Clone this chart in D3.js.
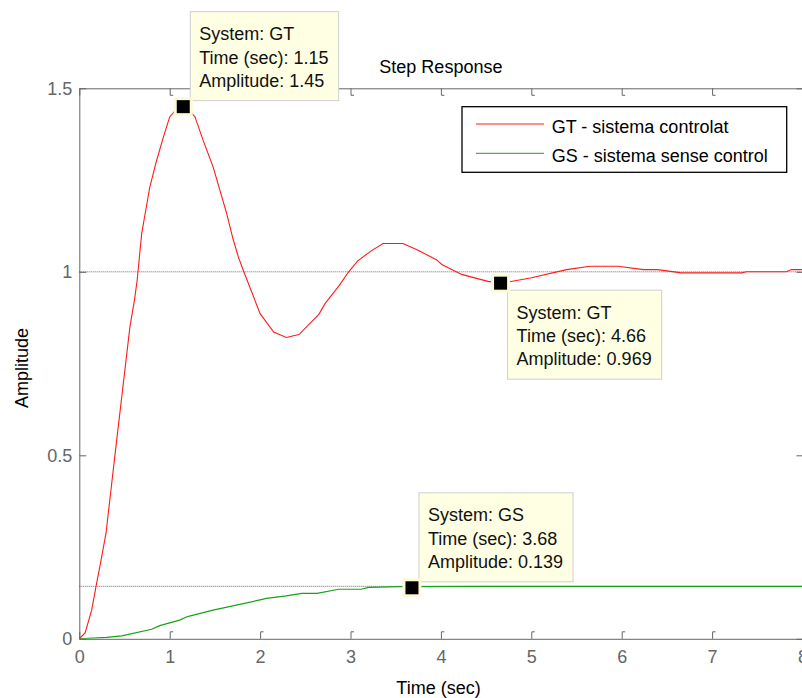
<!DOCTYPE html>
<html>
<head>
<meta charset="utf-8">
<script src="https://cdn.jsdelivr.net/npm/d3@7"></script>
<style>
  body { margin: 0; background: #fff; }
  svg { display: block; font-family: "Liberation Sans", Arial, sans-serif; }
</style>
</head>
<body>
<svg id="chart" width="802" height="698"></svg>
<script>
// step response of the controlled system (GT)
var gtTime = [0, 0.064, 0.137, 0.185, 0.23, 0.295, 0.395, 0.487, 0.56, 0.61, 0.64, 0.69, 0.78, 0.856, 0.93, 1.0, 1.08, 1.15, 1.22, 1.28, 1.37, 1.48, 1.63, 1.70, 1.76, 1.82, 2.0, 2.15, 2.29, 2.43, 2.65, 2.72, 2.87, 2.98, 3.08, 3.23, 3.36, 3.58, 3.73, 3.95, 4.01, 4.23, 4.52, 4.66, 4.76, 4.99, 5.39, 5.65, 5.96, 6.24, 6.40, 6.66, 7.33, 7.38, 7.82, 7.88, 8.0];
var gtAmp  = [0, 0.016, 0.078, 0.143, 0.2, 0.287, 0.502, 0.696, 0.85, 0.923, 0.977, 1.104, 1.231, 1.304, 1.367, 1.422, 1.445, 1.45, 1.44, 1.422, 1.358, 1.286, 1.159, 1.09, 1.04, 1.0, 0.886, 0.836, 0.821, 0.829, 0.884, 0.914, 0.961, 1.0, 1.03, 1.057, 1.077, 1.077, 1.061, 1.033, 1.02, 0.993, 0.974, 0.969, 0.973, 0.983, 1.006, 1.015, 1.015, 1.006, 1.006, 0.997, 0.997, 1.0, 1.0, 1.006, 1.006];

// step response of the uncontrolled system (GS)
var gsTime = [0, 0.3, 0.47, 0.8, 0.89, 1.11, 1.19, 1.24, 1.48, 2.0, 2.07, 2.29, 2.46, 2.63, 2.87, 3.12, 3.2, 3.55, 3.68, 4.5, 8];
var gsAmp  = [0, 0.004, 0.008, 0.026, 0.036, 0.051, 0.06, 0.063, 0.078, 0.106, 0.110, 0.117, 0.124, 0.124, 0.135, 0.135, 0.140, 0.142, 0.142, 0.143, 0.143];

// steady state lines
var steadyValues = [1, 0.143];

// axis ticks
var xTicks = [0, 1, 2, 3, 4, 5, 6, 7, 8];
var xTickLabels = ["0", "1", "2", "3", "4", "5", "6", "7", "8"];
var yTicks = [0, 0.5, 1, 1.5];
var yTickLabels = ["0", "0.5", "1", "1.5"];

// data tips
var tipSystem = ["GT", "GT", "GS"];
var tipTime = [1.15, 4.66, 3.68];
var tipAmp = [1.45, 0.969, 0.139];
var tipAmpLabel = ["1.45", "0.969", "0.139"];
var tipBelow = [false, true, false];

// legend
var legendNames = ["GT - sistema controlat", "GS - sistema sense control"];
var legendColors = ["#ff1a1a", "#16a316"];

var svg = d3.select("#chart");

var x = d3.scaleLinear().domain([0, 8]).range([79.3, 802.5]);
var y = d3.scaleLinear().domain([0, 1.5]).range([638.8, 88.3]);

var axisColor = "#666";
var fontSize = 18;

// clip for the curves
svg.append("defs").append("clipPath").attr("id", "plotClip")
  .append("rect")
  .attr("x", x(0)).attr("y", y(1.5))
  .attr("width", x(8) - x(0)).attr("height", y(0) - y(1.5));

// axes
function styleAxis(g) {
  g.selectAll("path.domain").attr("stroke", axisColor).attr("stroke-width", 1);
  g.selectAll(".tick line").attr("stroke", axisColor).attr("stroke-width", 1);
  g.selectAll(".tick text")
    .attr("fill", "#666")
    .style("font-size", fontSize + "px")
    .style("font-family", "'Liberation Sans', Arial, sans-serif");
}

var gBottom = svg.append("g")
  .attr("transform", "translate(0," + y(0) + ")")
  .call(d3.axisBottom(x).tickValues(xTicks)
    .tickFormat(function(d, i) { return xTickLabels[i]; })
    .tickSizeInner(-7).tickSizeOuter(0).tickPadding(11))
  .call(styleAxis);
gBottom.selectAll(".tick").filter(function(d) { return d > 0 && d < 8; })
  .append("line").attr("x1", 0).attr("x2", 3).attr("y1", -7).attr("y2", -7)
  .attr("stroke", axisColor);

var gTop = svg.append("g")
  .attr("transform", "translate(0," + y(1.5) + ")")
  .call(d3.axisTop(x).tickValues(xTicks).tickFormat("")
    .tickSizeInner(-7).tickSizeOuter(0))
  .call(styleAxis);
gTop.selectAll(".tick").filter(function(d) { return d > 0 && d < 8; })
  .append("line").attr("x1", 0).attr("x2", 3).attr("y1", 7).attr("y2", 7)
  .attr("stroke", axisColor);

svg.append("g")
  .attr("transform", "translate(" + x(0) + ",0)")
  .call(d3.axisLeft(y).tickValues(yTicks)
    .tickFormat(function(d, i) { return yTickLabels[i]; })
    .tickSizeInner(-7).tickSizeOuter(0).tickPadding(7))
  .call(styleAxis);

svg.append("g")
  .attr("transform", "translate(" + x(8) + ",0)")
  .call(d3.axisRight(y).tickValues(yTicks).tickFormat("")
    .tickSizeInner(-6).tickSizeOuter(0))
  .call(styleAxis);

// steady state dotted lines
svg.selectAll("line.steady").data(steadyValues).enter().append("line")
  .attr("class", "steady")
  .attr("x1", x(0)).attr("x2", x(8))
  .attr("y1", function(d) { return y(d); })
  .attr("y2", function(d) { return y(d); })
  .attr("stroke", "#444").attr("stroke-width", 0.8)
  .attr("stroke-dasharray", "1,1");

// curves
var line = d3.line()
  .x(function(d) { return x(d[0]); })
  .y(function(d) { return y(d[1]); });

var curves = svg.append("g").attr("clip-path", "url(#plotClip)");
curves.append("path")
  .datum(d3.zip(gsTime, gsAmp))
  .attr("d", line)
  .attr("fill", "none").attr("stroke", legendColors[1]).attr("stroke-width", 1.2);
curves.append("path")
  .datum(d3.zip(gtTime, gtAmp))
  .attr("d", line)
  .attr("fill", "none").attr("stroke", legendColors[0]).attr("stroke-width", 1.1);

// legend
var legend = svg.append("g");
legend.append("rect")
  .attr("x", 462).attr("y", 106.7).attr("width", 324.7).attr("height", 65.6)
  .attr("fill", "#fff").attr("stroke", "#000").attr("stroke-width", 1.3);
legendNames.forEach(function(name, i) {
  var ly = 124 + i * 29.3;
  legend.append("line")
    .attr("x1", 476).attr("x2", 544).attr("y1", ly).attr("y2", ly)
    .attr("stroke", legendColors[i]).attr("stroke-width", 1);
  legend.append("text")
    .attr("x", 551.7).attr("y", ly + 9)
    .style("font-size", fontSize + "px")
    .attr("fill", "#000")
    .text(name);
});

// data tips
tipTime.forEach(function(t, i) {
  var mx = x(t), my = y(tipAmp[i]);
  var g = svg.append("g");
  var lines = ["System: " + tipSystem[i], "Time (sec): " + t, "Amplitude: " + tipAmpLabel[i]];

  var box = g.append("rect")
    .attr("fill", "#ffffe4").attr("stroke", "#cfcfcf").attr("stroke-width", 1);
  var texts = g.selectAll("text").data(lines).enter().append("text")
    .style("font-size", fontSize + "px")
    .attr("fill", "#111")
    .text(function(d) { return d; });

  var w = d3.max(texts.nodes(), function(n) { return n.getComputedTextLength(); }) + 19;
  var h = 89;
  var bx = mx + 7;
  var by = tipBelow[i] ? my + 7 : my - 6 - h;
  box.attr("x", bx).attr("y", by).attr("width", w).attr("height", h);
  texts.attr("x", bx + 9).attr("y", function(d, j) { return by + 28.5 + j * 23.4; });

  // marker
  svg.append("rect")
    .attr("x", mx - 9.5).attr("y", my - 9.5).attr("width", 19).attr("height", 19)
    .attr("fill", "#fcf9d6");
  svg.append("rect")
    .attr("x", mx - 6.5).attr("y", my - 6.5).attr("width", 13).attr("height", 13)
    .attr("fill", "#000");
});

// title and axis labels
svg.append("text")
  .attr("x", (x(0) + x(8)) / 2).attr("y", 73)
  .attr("text-anchor", "middle")
  .style("font-size", fontSize + "px")
  .text("Step Response");

svg.append("text")
  .attr("x", 438.5).attr("y", 694)
  .attr("text-anchor", "middle")
  .style("font-size", fontSize + "px")
  .text("Time (sec)");

svg.append("text")
  .attr("transform", "translate(28,368) rotate(-90)")
  .attr("text-anchor", "middle")
  .style("font-size", fontSize + "px")
  .text("Amplitude");
</script>
</body>
</html>
